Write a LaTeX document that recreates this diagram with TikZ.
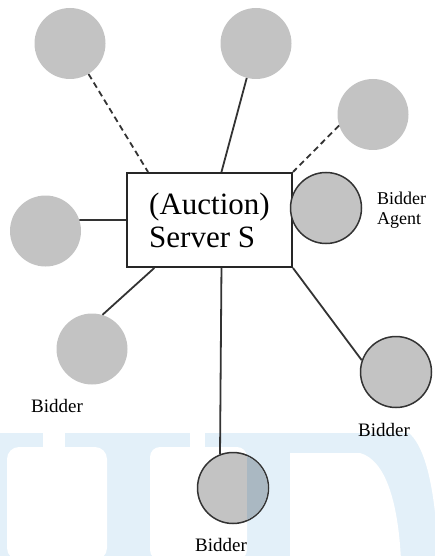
\documentclass[tikz,border=0pt]{standalone}
\usepackage{fontspec}
\setmainfont{Liberation Serif}
\usetikzlibrary{positioning,backgrounds}
\definecolor{nodegray}{RGB}{195,195,195}
\definecolor{markblue}{RGB}{227,240,249}
\definecolor{markgray}{RGB}{170,184,194}

\tikzset{
  peer/.style={circle, fill=nodegray, minimum size=71pt, inner sep=0pt},
  bidder/.style={peer, draw=black!80, line width=1.5pt},
  link/.style={line width=1.8pt, black!80},
  dlink/.style={link, dash pattern=on 6pt off 4pt},
  lbl/.style={font=\fontsize{19}{20}\selectfont, inner sep=0pt},
}

\begin{document}
\begin{tikzpicture}[x=1pt,y=-1pt]
    \useasboundingbox (0,0) rectangle (435,556);
    % faint letters in the background
    \fill[markblue] (0,433) rectangle (435,556);
    \fill[white] (43,432) rectangle (65,448);
    \fill[white, rounded corners=12pt] (7,560) -- (7,447) -- (107,447) -- (107,560) -- cycle;
    \fill[white] (190,432) rectangle (205,448);
    \fill[white, rounded corners=10pt] (150,560) -- (150,447) -- (247,447) -- (247,560) -- cycle;
    \fill[white] (290,560) -- (290,453) -- (360,453) .. controls (385,460) and (398,500) .. (401,560) -- cycle;
    \fill[white] (408,432) .. controls (424,445) and (432,480) .. (436,522) -- (436,432) -- cycle;

    \node[draw=black!85, line width=2pt, minimum width=165pt, minimum height=94pt, align=left,
      font=\fontsize{31}{33}\selectfont] (srv) at (209.5,220) {(Auction)\\Server S};

    \node[peer] (p1) at (70,43.5) {};
    \node[peer] (p2) at (256,43.5) {};
    \node[peer] (p3) at (373,114.5) {};
    \node[peer] (p4) at (45.5,231) {};
    \node[peer] (p5) at (92,349) {};
    \node[bidder] (ag) at (326,208) {};
    \node[bidder] (rc) at (396,372) {};
    \node[bidder] (bc) at (233,488) {};
    \begin{scope}
      \clip (bc.center) circle (34.7pt);
      \fill[markgray] (247,440) rectangle (290,530);
    \end{scope}

    \node[lbl, anchor=west, align=left, font=\fontsize{18}{20}\selectfont] (aglbl) at (377,210) {Bidder\\Agent};
    \node[lbl] (b5) at (57,406) {Bidder};
    \node[lbl] (brc) at (384,430) {Bidder};
    \node[lbl] (bbc) at (221,545) {Bidder};

    \draw[dlink] (p1) -- (srv.142);
    \draw[link] (p2) -- (srv.76);
    \draw[dlink] (p3.198) -- (srv.north east);
    \draw[link] (p4.18) -- (srv.west);
    \draw[link] (p5.73) -- (srv.221);
    \draw[link] (bc.111) -- (srv.284);
    \draw[link] (rc.161) -- (srv.south east);
\end{tikzpicture}
\end{document}
